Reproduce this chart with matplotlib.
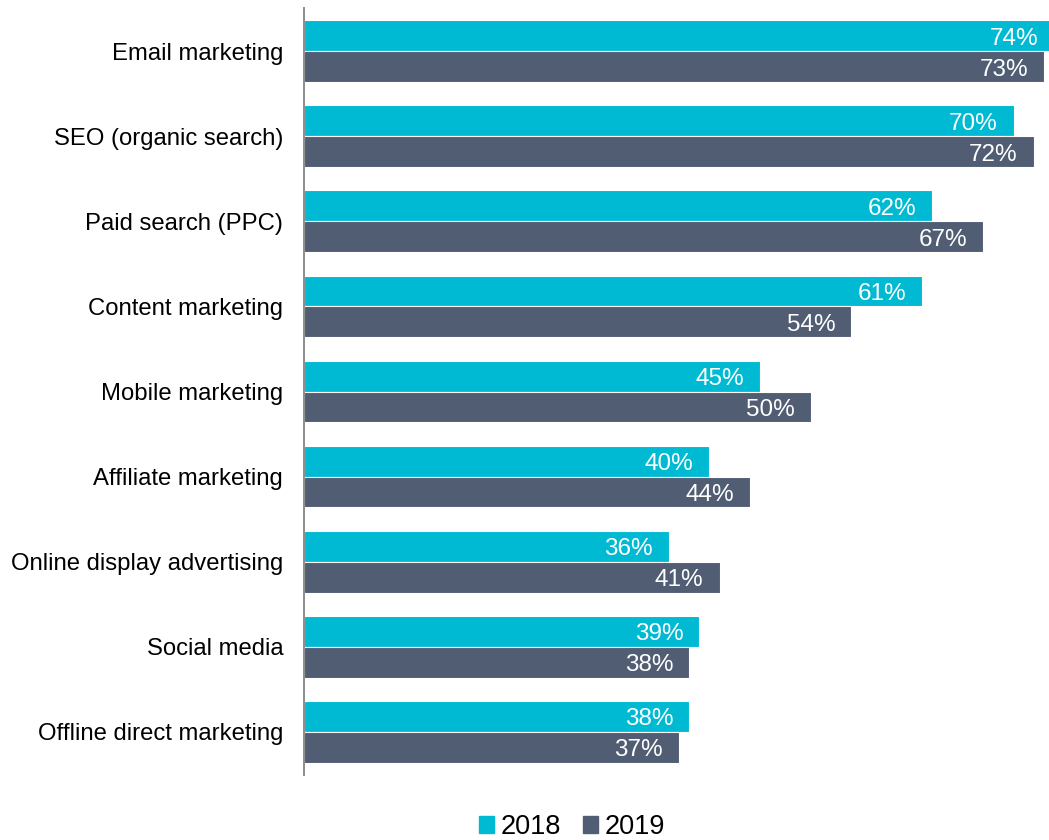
import numpy as np
import matplotlib
matplotlib.use('Agg')
import matplotlib.pyplot as plt
from matplotlib.patches import Patch

plt.rcParams.update({
    'font.family': ['Liberation Sans', 'DejaVu Sans'],
})

channels = [
    'Email marketing',
    'SEO (organic search)',
    'Paid search (PPC)',
    'Content marketing',
    'Mobile marketing',
    'Affiliate marketing',
    'Online display advertising',
    'Social media',
    'Offline direct marketing',
]
share_2018 = [74, 70, 62, 61, 45, 40, 36, 39, 38]
share_2019 = [73, 72, 67, 54, 50, 44, 41, 38, 37]

C2018 = '#00BAD3'
C2019 = '#505D73'

fig = plt.figure(figsize=(10.49, 8.40), dpi=100)
ax = fig.add_axes([304 / 1049, 1 - 775 / 840, 1 - 304 / 1049, (775 - 8) / 840])

y = np.arange(len(channels))
h = 0.364
b1 = ax.barh(y - h / 2, share_2018, height=h, color=C2018,
             edgecolor='white', linewidth=0.8)
b2 = ax.barh(y + h / 2, share_2019, height=h, color=C2019,
             edgecolor='white', linewidth=0.8)

# value labels sit inside the bar end, in white
for bars, vals in ((b1, share_2018), (b2, share_2019)):
    for bar, v in zip(bars, vals):
        ax.annotate(f'{v}%', xy=(v, bar.get_y() + bar.get_height() / 2),
                    xytext=(-11.5, -2), textcoords='offset points',
                    ha='right', va='center', color='white', fontsize=17.5,
                    annotation_clip=False)

ax.set_xlim(0, 73.5)
ax.set_ylim(len(channels) - 0.49, -0.51)
ax.set_yticks(y)
ax.set_yticklabels(channels, fontsize=17.2)
ax.tick_params(axis='y', length=0, pad=15)
ax.set_xticks([])
for side in ('top', 'right', 'bottom'):
    ax.spines[side].set_visible(False)
ax.spines['left'].set_color('#8C8C8C')
ax.spines['left'].set_linewidth(1.4)

handles = [Patch(color=C2018, label='2018'), Patch(color=C2019, label='2019')]
fig.legend(handles=handles, loc='center', ncol=2,
           bbox_to_anchor=(572 / 1049, 1 - 827 / 840), frameon=False,
           fontsize=19.5, handlelength=0.55, handleheight=0.55,
           handletextpad=0.25, columnspacing=0.8)

fig.savefig('out.png', dpi=100)
